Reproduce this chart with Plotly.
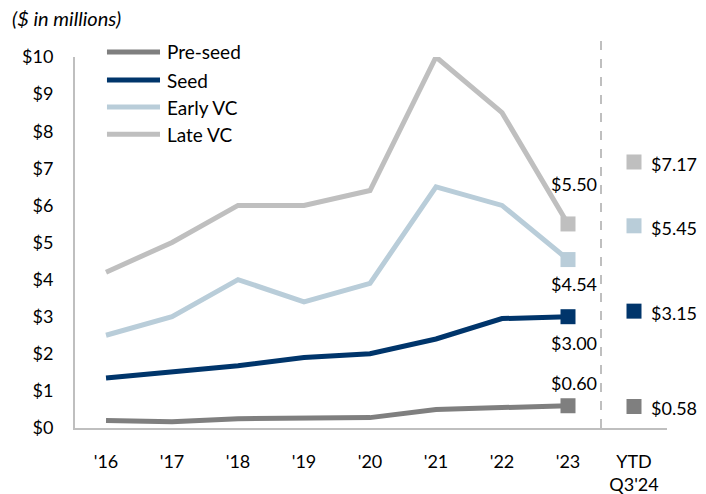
import plotly.graph_objects as go

years = ["'16", "'17", "'18", "'19", "'20", "'21", "'22", "'23"]
ytd_label = "YTD<br>Q3'24"
categories = years + [ytd_label]

series_names = ["Pre-seed", "Seed", "Early VC", "Late VC"]
pre_seed = [0.20, 0.17, 0.25, 0.28, 0.28, 0.50, 0.55, 0.60]
seed = [1.35, 1.50, 1.68, 1.90, 2.00, 2.40, 2.95, 3.00]
early_vc = [2.50, 3.00, 4.00, 3.40, 3.90, 6.50, 6.00, 4.54]
late_vc = [4.20, 5.00, 6.00, 6.00, 6.40, 10.00, 8.50, 5.50]
ytd_values = [0.58, 3.15, 5.45, 7.17]

colors = ["#7f7f7f", "#00356b", "#b9cdd9", "#bfbfbf"]
all_series = [pre_seed, seed, early_vc, late_vc]

# label offsets (px) for the '23 value labels
end_label_shift = [23, -26, -24, 40]

FONT = "Lato"
fig = go.Figure()

for name, vals, col in zip(series_names, all_series, colors):
    fig.add_trace(go.Scatter(x=years, y=vals, mode="lines", name=name,
                             line=dict(color=col, width=5), showlegend=False,
                             hoverinfo="y"))
    fig.add_trace(go.Scatter(x=[years[-1]], y=[vals[-1]], mode="markers",
                             marker=dict(symbol="square", size=15, color=col),
                             showlegend=False, cliponaxis=False))

for name, v, col in zip(series_names, ytd_values, colors):
    fig.add_trace(go.Scatter(x=[ytd_label], y=[v], mode="markers",
                             marker=dict(symbol="square", size=15, color=col),
                             showlegend=False, cliponaxis=False))

annotations = []
for vals, sh in zip(all_series, end_label_shift):
    annotations.append(dict(x=years[-1], y=vals[-1], text=f"${vals[-1]:.2f}",
                            showarrow=False, xshift=6, yshift=sh,
                            font=dict(family=FONT, size=18, color="#000")))
for v in ytd_values:
    annotations.append(dict(x=ytd_label, y=v, text=f"${v:.2f}", showarrow=False,
                            xanchor="left", xshift=15, yshift=-2,
                            font=dict(family=FONT, size=18, color="#000")))

# title (paper coords relative to plot area: left=75px, top=57px, 592x371)
annotations.append(dict(x=(10 - 75) / 592, y=(428 - 18) / 371, xref="paper", yref="paper",
                        xanchor="left", yanchor="middle", showarrow=False,
                        text="<i>($ in millions)</i>",
                        font=dict(family=FONT, size=20, color="#000")))

shapes = [dict(type="line", xref="x", yref="paper", x0=7.5, x1=7.5, y0=0, y1=1.046,
               line=dict(color="#bfbfbf", width=2, dash="dash"))]

# legend (drawn manually for long line samples)
legend_y = [1.0135, 0.938, 0.865, 0.792]
for name, col, ly in zip(series_names, colors, legend_y):
    shapes.append(dict(type="line", xref="paper", yref="paper", x0=0.054, x1=0.1436,
                       y0=ly, y1=ly, line=dict(color=col, width=5)))
    annotations.append(dict(x=0.152, y=ly, xref="paper", yref="paper", xanchor="left",
                            yanchor="middle", showarrow=False, text=name,
                            font=dict(family=FONT, size=19, color="#000")))

fig.update_layout(
    width=706, height=494,
    margin=dict(l=75, r=39, t=57, b=66),
    plot_bgcolor="white", paper_bgcolor="white",
    font=dict(family=FONT, size=18, color="#000"),
    annotations=annotations, shapes=shapes,
    showlegend=False,
)
fig.update_xaxes(type="category", categoryorder="array", categoryarray=categories,
                 range=[-0.47, 8.5], showgrid=False, showline=True, linecolor="#bfbfbf",
                 linewidth=2, ticks="outside", ticklen=16, tickcolor="rgba(0,0,0,0)",
                 tickfont=dict(family=FONT, size=18, color="#000"), zeroline=False,
                 automargin=False)
fig.update_yaxes(range=[0, 10], dtick=1, tickprefix="$", showgrid=False, showline=True,
                 linecolor="#bfbfbf", linewidth=2, ticks="outside", ticklen=16,
                 tickcolor="rgba(0,0,0,0)", zeroline=False, automargin=False,
                 tickfont=dict(family=FONT, size=18, color="#000"))

fig.write_html("out.html", config={"displayModeBar": False},
               post_script="document.body.style.margin='0';document.body.style.padding='0';")
